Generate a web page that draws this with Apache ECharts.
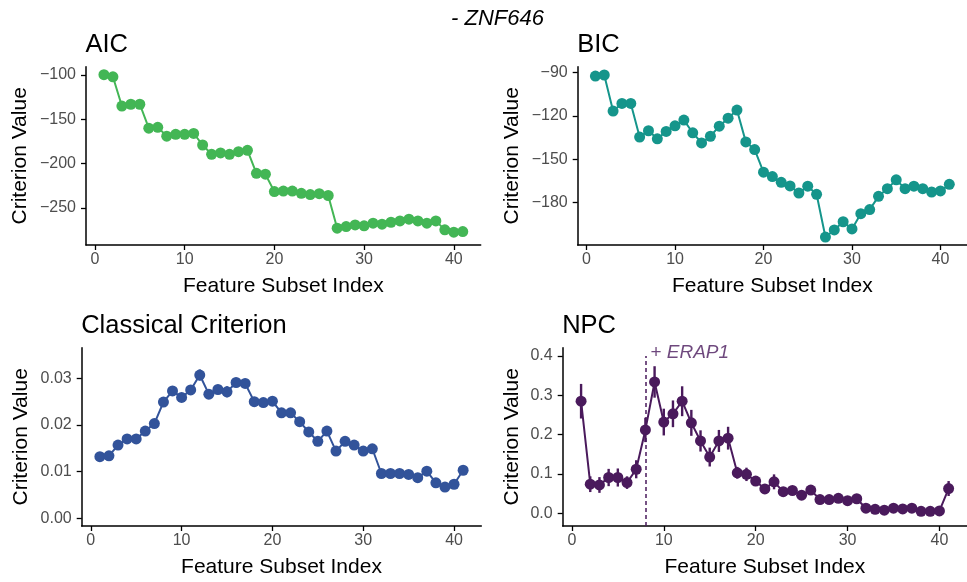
<!DOCTYPE html>
<html>
<head>
<meta charset="utf-8">
<script src="https://cdn.jsdelivr.net/npm/echarts@6/dist/echarts.min.js"></script>
<style>
  html, body { margin: 0; padding: 0; background: #ffffff; }
  #chart { width: 967px; height: 582px; }
</style>
</head>
<body>
<div id="chart"></div>
<script>
// ---------- data ----------
const featureIndex = [1,2,3,4,5,6,7,8,9,10,11,12,13,14,15,16,17,18,19,20,21,22,23,24,25,26,27,28,29,30,31,32,33,34,35,36,37,38,39,40,41];
const xTicks = [0, 10, 20, 30, 40];

const aicValues = [-99.6,-102,-135,-133,-133,-160,-159,-169,-167,-167,-166,-179,-189.5,-188,-189.5,-186.5,-185,-211,-212,-231.6,-231,-231,-233.5,-235,-234,-236,-272.9,-271.1,-269.2,-270.3,-267.3,-268.4,-266.2,-264.7,-262.8,-264.7,-267.3,-264.7,-274.8,-277.4,-276.7];
const aicTicks = [-250, -200, -150, -100];

const bicValues = [-92.3,-91.6,-116.6,-111.3,-111.3,-134.6,-130.2,-135.8,-130.7,-126.8,-122.8,-131.6,-138.6,-134.0,-127.0,-121.5,-115.9,-137.9,-143.2,-158.9,-161.9,-165.9,-168.4,-173.3,-168.6,-174.2,-203.8,-198.9,-193.2,-198.2,-187.6,-184.8,-175.6,-170.3,-164.2,-170.3,-168.6,-170.3,-172.6,-171.9,-167.3];
const bicTicks = [-180, -150, -120, -90];

const classicalValues = [0.0132,0.0134,0.0157,0.0170,0.0170,0.0187,0.0203,0.0249,0.0273,0.0259,0.0275,0.0307,0.0266,0.0276,0.0271,0.0291,0.0289,0.0250,0.0248,0.0251,0.0226,0.0226,0.0207,0.0185,0.0165,0.0187,0.0144,0.0165,0.0157,0.0144,0.0149,0.0096,0.0096,0.0096,0.0094,0.0087,0.0101,0.0076,0.0067,0.0073,0.0103];
const classicalErr = [0.0006,0.0006,0.0007,0.0007,0.0007,0.0008,0.0008,0.0009,0.0009,0.0009,0.0009,0.0012,0.0009,0.0010,0.0012,0.0010,0.0010,0.0010,0.0010,0.0010,0.0009,0.0009,0.0009,0.0009,0.0008,0.0009,0.0008,0.0008,0.0008,0.0008,0.0008,0.0006,0.0006,0.0006,0.0006,0.0006,0.0006,0.0006,0.0006,0.0006,0.0006];
const classicalTicks = [0, 0.01, 0.02, 0.03];

const npcValues = [0.285,0.074,0.072,0.091,0.091,0.078,0.112,0.212,0.334,0.232,0.253,0.285,0.230,0.184,0.143,0.184,0.191,0.103,0.099,0.082,0.062,0.080,0.055,0.058,0.046,0.059,0.035,0.035,0.038,0.032,0.037,0.013,0.010,0.008,0.013,0.011,0.013,0.005,0.005,0.006,0.063];
const npcErr = [0.044,0.020,0.020,0.022,0.023,0.016,0.023,0.031,0.040,0.034,0.034,0.038,0.033,0.027,0.024,0.028,0.029,0.015,0.017,0.010,0.010,0.019,0.008,0.008,0.008,0.012,0.006,0.006,0.006,0.006,0.006,0.004,0.004,0.004,0.004,0.004,0.004,0.004,0.004,0.004,0.019];
const npcTicks = [0, 0.1, 0.2, 0.3, 0.4];

const markerIndex = 8;
const markerTop = 0.40;
const markerLabelY = 0.4076;
const markerGene = 'ERAP1';

const mainTitle = '- ZNF646';
const panelTitles = ['AIC', 'BIC', 'Classical Criterion', 'NPC'];
const xName = 'Feature Subset Index';
const yName = 'Criterion Value';

// ---------- styling ----------
const FONT = '"Liberation Sans", Arial, Helvetica, sans-serif';
const colors = ['#43B655', '#15958B', '#32539A', '#4A1A5C'];

const panels = [
  { grid: { left: 86,    top: 66.7,  width: 394.7, height: 178.3 }, yMin: -291.9, yMax: -90.6,  ticks: aicTicks,       dec: 0, gap: 55, values: aicValues },
  { grid: { left: 577.7, top: 66.7,  width: 394.3, height: 178.3 }, yMin: -209.3, yMax: -85.85, ticks: bicTicks,       dec: 0, gap: 55, values: bicValues },
  { grid: { left: 81.7,  top: 347.7, width: 399.6, height: 178.3 }, yMin: -0.00165, yMax: 0.03656, ticks: classicalTicks, dec: 2, gap: 50, values: classicalValues, err: classicalErr },
  { grid: { left: 562.7, top: 347.7, width: 409.3, height: 178.3 }, yMin: -0.0323, yMax: 0.4211, ticks: npcTicks,       dec: 1, gap: 40, values: npcValues, err: npcErr }
];

const fmt = (dec) => (v) => {
  const s = Number(v).toFixed(dec);
  return s.replace('-', '\u2212');
};

const axisLineStyle = { color: '#000000', width: 1.5 };

const grids = [], xAxes = [], yAxes = [], series = [], titles = [];

titles.push({
  text: mainTitle, left: 446, top: 3,
  textStyle: { fontFamily: FONT, fontSize: 22, fontStyle: 'italic', fontWeight: 'normal', color: '#000' }
});

panels.forEach((p, i) => {
  grids.push(Object.assign({ containLabel: false }, p.grid));
  titles.push({
    text: panelTitles[i], left: p.grid.left - 0.5, top: p.grid.top - 35,
    padding: 0,
    textStyle: { fontFamily: FONT, fontSize: 25.5, fontWeight: 'normal', color: '#000' }
  });
  xAxes.push({
    type: 'value', gridIndex: i, min: -1, max: 43,
    name: xName, nameLocation: 'middle', nameGap: 31,
    nameTextStyle: { fontFamily: FONT, fontSize: 21, color: '#000' },
    axisLine: { show: true, onZero: false, lineStyle: axisLineStyle },
    axisTick: { show: true, length: 5, customValues: xTicks, lineStyle: { color: '#000', width: 1.3 } },
    axisLabel: { customValues: xTicks, margin: 7, fontFamily: FONT, fontSize: 16, color: '#4D4D4D' },
    splitLine: { show: false }
  });
  yAxes.push({
    type: 'value', gridIndex: i, min: p.yMin, max: p.yMax,
    name: yName, nameLocation: 'middle', nameGap: p.gap,
    nameTextStyle: { fontFamily: FONT, fontSize: 21, color: '#000' },
    axisLine: { show: true, onZero: false, lineStyle: axisLineStyle },
    axisTick: { show: true, length: 5, customValues: p.ticks, lineStyle: { color: '#000', width: 1.3 } },
    axisLabel: { customValues: p.ticks, margin: 10, fontFamily: FONT, fontSize: 16, color: '#4D4D4D', formatter: fmt(p.dec) },
    splitLine: { show: false }
  });

  const lineData = featureIndex.map((x, k) => [x, p.values[k]]);
  const lineSeries = {
    type: 'line', xAxisIndex: i, yAxisIndex: i,
    data: lineData,
    symbol: 'circle', symbolSize: 11,
    lineStyle: { color: colors[i], width: 2 },
    itemStyle: { color: colors[i] },
    z: 3,
    animation: false
  };
  if (i === 3) {
    lineSeries.markLine = {
      silent: true, symbol: 'none', animation: false,
      label: { show: false },
      lineStyle: { color: colors[i], type: [4, 3], width: 1.5 },
      data: [[{ coord: [markerIndex, p.yMin] }, { coord: [markerIndex, markerTop] }]]
    };
  }
  if (p.err) {
    const color = colors[i];
    series.push({
      type: 'custom', xAxisIndex: i, yAxisIndex: i,
      data: featureIndex.map((x, k) => [x, p.values[k] - p.err[k], p.values[k] + p.err[k]]),
      renderItem: (params, api) => {
        const a = api.coord([api.value(0), api.value(1)]);
        const b = api.coord([api.value(0), api.value(2)]);
        return { type: 'line', shape: { x1: a[0], y1: a[1], x2: b[0], y2: b[1] }, style: { stroke: color, lineWidth: 2.4 } };
      },
      z: 2, animation: false, silent: true
    });
  }
  series.push(lineSeries);
  if (i === 3) {
    series.push({
      type: 'scatter', xAxisIndex: i, yAxisIndex: i,
      data: [[markerIndex, markerLabelY]],
      symbolSize: 0, silent: true, animation: false,
      label: {
        show: true, position: 'right', distance: 5,
        formatter: '{a|+ }{b|' + markerGene + '}',
        rich: {
          a: { fontFamily: FONT, fontSize: 19, color: colors[i] },
          b: { fontFamily: FONT, fontSize: 19, fontStyle: 'italic', color: colors[i] }
        }
      }
    });
  }
});

const chart = echarts.init(document.getElementById('chart'), null, { renderer: 'canvas' });
chart.setOption({
  backgroundColor: '#ffffff',
  animation: false,
  title: titles,
  grid: grids,
  xAxis: xAxes,
  yAxis: yAxes,
  series: series
});
</script>
</body>
</html>
